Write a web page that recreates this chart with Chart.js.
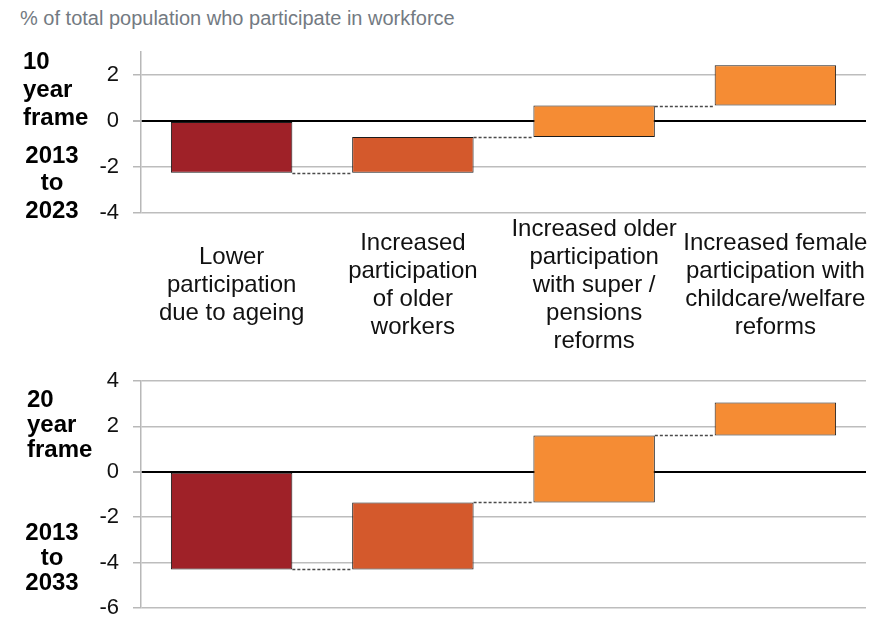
<!DOCTYPE html>
<html>
<head>
<meta charset="utf-8">
<script src="https://cdn.jsdelivr.net/npm/chart.js@4"></script>
<style>
    body { margin: 0; background: #fff; width: 894px; height: 618px; overflow: hidden; position: relative; }
    .chart-title { position: absolute; left: 20px; top: 7px; font: 20px "Liberation Sans", Arial, sans-serif; color: #737a82; white-space: nowrap; }
    canvas { position: absolute; left: 0; }
    #chart-10y { top: 0; }
    #chart-20y { top: 340px; }
</style>
</head>
<body>
<div class="chart-title">% of total population who participate in workforce</div>
<canvas id="chart-10y" width="894" height="370"></canvas>
<canvas id="chart-20y" width="894" height="310"></canvas>

<script>
// Waterfall steps: bar i runs from level[i] to level[i + 1]
const categories = [
    ['Lower', 'participation', 'due to ageing'],
    ['Increased', 'participation', 'of older', 'workers'],
    ['Increased older', 'participation', 'with super /', 'pensions', 'reforms'],
    ['Increased female', 'participation with', 'childcare/welfare', 'reforms']
];
const tenYearLevels = [0, -2.25, -0.7, 0.67, 2.42];
const twentyYearLevels = [0, -4.3, -1.35, 1.6, 3.05];

const tenYearTicks = [-4, -2, 0, 2];
const twentyYearTicks = [-6, -4, -2, 0, 2, 4];

const barColors = ['#9f2128', '#d4592c', '#f58c34', '#f58c34'];

const FONT = '"Liberation Sans", Arial, sans-serif';

function toFloatingBars(levels) {
    return levels.slice(1).map((v, i) => [levels[i], v]);
}

// dotted connectors between the end of one step and the start of the next
const connectorPlugin = {
    id: 'connectors',
    afterDatasetsDraw(chart, args, opts) {
        const { ctx } = chart;
        const yScale = chart.scales.y;
        const bars = chart.getDatasetMeta(0).data;
        ctx.save();
        ctx.strokeStyle = '#4a4a4a';
        ctx.lineWidth = 1.5;
        ctx.setLineDash([3, 2]);
        for (let i = 0; i < bars.length - 1; i++) {
            const y = Math.round(yScale.getPixelForValue(opts.levels[i + 1])) + 0.5;
            ctx.beginPath();
            ctx.moveTo(bars[i].x + bars[i].width / 2, y);
            ctx.lineTo(bars[i + 1].x - bars[i + 1].width / 2, y);
            ctx.stroke();
        }
        ctx.restore();
    }
};

// side captions and (optionally) the category names under the x axis
const textPlugin = {
    id: 'sideText',
    afterDraw(chart, args, opts) {
        const { ctx } = chart;
        ctx.save();
        ctx.textBaseline = 'middle';
        ctx.fillStyle = '#000';
        ctx.font = 'bold 24px ' + FONT;
        (opts.blocks || []).forEach(b => {
            ctx.textAlign = b.align;
            b.lines.forEach((line, i) => ctx.fillText(line, b.x, b.y + i * b.lineHeight));
        });
        if (opts.categoryY) {
            const xScale = chart.scales.x;
            ctx.font = '24px ' + FONT;
            ctx.fillStyle = '#111';
            ctx.textAlign = 'center';
            const lh = 28;
            categories.forEach((lines, i) => {
                const x = xScale.getPixelForValue(i);
                const top = opts.categoryY - (lines.length - 1) * lh / 2;
                lines.forEach((line, j) => ctx.fillText(line, x, top + j * lh));
            });
        }
        ctx.restore();
    }
};

function makeChart(canvasId, levels, ticks, yMin, yMax, padding, textOpts) {
    return new Chart(document.getElementById(canvasId), {
        type: 'bar',
        data: {
            labels: categories.map((c, i) => i),
            datasets: [{
                data: toFloatingBars(levels),
                backgroundColor: barColors,
                borderColor: '#1b1b1b',
                borderWidth: 1,
                borderSkipped: false,
                barPercentage: 0.67,
                categoryPercentage: 1
            }]
        },
        options: {
            responsive: false,
            devicePixelRatio: 1,
            animation: false,
            layout: { padding },
            plugins: {
                legend: { display: false },
                tooltip: { enabled: false },
                connectors: { levels },
                sideText: textOpts
            },
            scales: {
                x: { display: false, grid: { display: false } },
                y: {
                    min: yMin,
                    max: yMax,
                    afterBuildTicks: scale => { scale.ticks = ticks.map(v => ({ value: v })); },
                    afterFit: scale => { scale.width = 141; },
                    border: { color: '#b8b8b8', width: 1.5 },
                    grid: {
                        color: c => c.tick && c.tick.value === 0 ? '#000' : '#bdbdbd',
                        lineWidth: c => c.tick && c.tick.value === 0 ? 2 : 1.5,
                        tickLength: 8,
                        tickColor: '#b8b8b8'
                    },
                    ticks: {
                        padding: 14,
                        color: '#111',
                        font: { family: FONT, size: 22 },
                        callback: v => String(v)
                    }
                }
            }
        },
        plugins: [connectorPlugin, textPlugin]
    });
}

makeChart('chart-10y', tenYearLevels, tenYearTicks, -4, 3,
    { top: 52, bottom: 157, left: 0, right: 28 },
    {
        blocks: [
            { lines: ['10', 'year', 'frame'], x: 23, y: 62, lineHeight: 28, align: 'left' },
            { lines: ['2013', 'to', '2023'], x: 52, y: 156, lineHeight: 27.5, align: 'center' }
        ],
        categoryY: 285
    });

makeChart('chart-20y', twentyYearLevels, twentyYearTicks, -6, 4,
    { top: 41, bottom: 42, left: 0, right: 28 },
    {
        blocks: [
            { lines: ['20', 'year', 'frame'], x: 27, y: 60, lineHeight: 25, align: 'left' },
            { lines: ['2013', 'to', '2033'], x: 52, y: 193, lineHeight: 25, align: 'center' }
        ]
    });
</script>
</body>
</html>
